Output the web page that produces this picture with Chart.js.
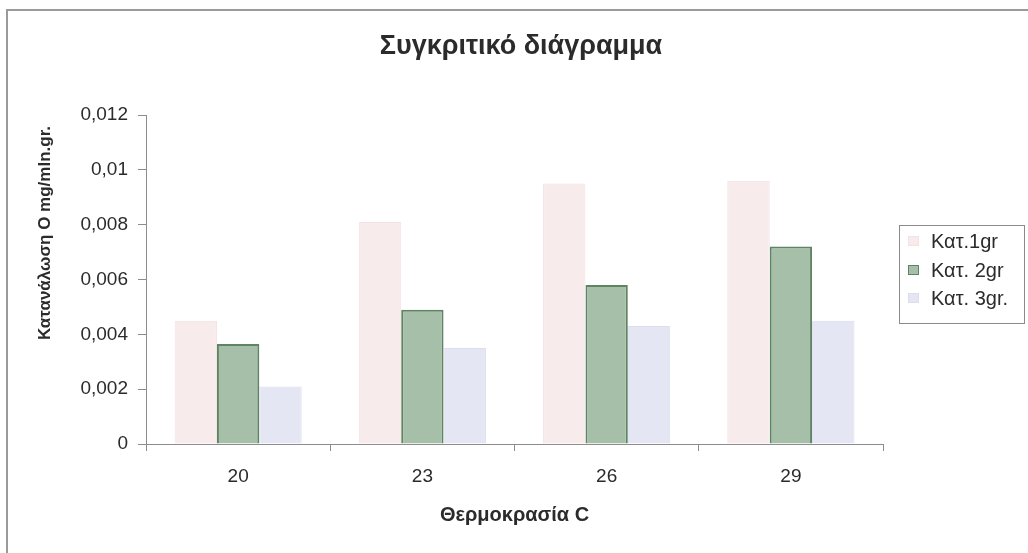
<!DOCTYPE html>
<html>
<head>
<meta charset="utf-8">
<style>
  html, body { margin: 0; padding: 0; background: #ffffff; }
  #wrap { width: 1028px; height: 553px; position: relative; }
</style>
<script src="https://cdn.jsdelivr.net/npm/chart.js@4.4.1/dist/chart.umd.min.js"></script>
</head>
<body>
<div id="wrap"><canvas id="chart" width="1028" height="553"></canvas></div>
<script>
// Temperatures (°C) on the category axis
const temperatures = ['20', '23', '26', '29'];

// Oxygen consumption, mg/min per gram, one series per size class
const seriesNames = ['Κατ.1gr', 'Κατ. 2gr', 'Κατ. 3gr.'];
const kat1 = [0.0045, 0.0081, 0.0095, 0.0096];
const kat2 = [0.00365, 0.0049, 0.0058, 0.0072];
const kat3 = [0.0021, 0.0035, 0.0043, 0.0045];

// Value axis range and step
const yMin = 0;
const yMax = 0.012;
const yStep = 0.002;

const chartTitle = 'Συγκριτικό διάγραμμα';
const xTitle = 'Θερμοκρασία C';
const yTitle = 'Κατανάλωση Ο mg/mln.gr.';

const FONT = "'Liberation Sans', Arial, sans-serif";
const TEXT = '#2b2b2b';
const AXIS = '#8c8c8c';

const fills = ['#f8ebec', '#a5bfa8', '#e4e7f3'];
const edges = ['#f1e2e3', '#5f8463', '#dadeee'];

function fmt(v) {
  return String(Number(v.toFixed(4))).replace('.', ',');
}

// Frame, title, axis titles and the boxed legend on the right
const decorations = {
  id: 'decorations',
  afterDraw(chart) {
    const ctx = chart.ctx;
    const area = chart.chartArea;
    ctx.save();

    // outer frame (top and left edges)
    ctx.strokeStyle = '#9a9a9a';
    ctx.lineWidth = 2;
    ctx.beginPath();
    ctx.moveTo(1028, 10);
    ctx.lineTo(7, 10);
    ctx.lineTo(7, 553);
    ctx.stroke();

    // title
    ctx.fillStyle = TEXT;
    ctx.textAlign = 'center';
    ctx.textBaseline = 'middle';
    ctx.font = 'bold 27px ' + FONT;
    ctx.fillText(chartTitle, 521, 47);

    // x axis title
    ctx.font = 'bold 20px ' + FONT;
    ctx.fillText(xTitle, (area.left + area.right) / 2, 515);

    // y axis title
    ctx.font = 'bold 17px ' + FONT;
    ctx.save();
    ctx.translate(45, 233);
    ctx.rotate(-Math.PI / 2);
    ctx.fillText(yTitle, 0, 0);
    ctx.restore();

    // legend box
    const bx = 899, by = 225, bw = 125, bh = 98;
    ctx.fillStyle = '#ffffff';
    ctx.fillRect(bx, by, bw, bh);
    ctx.strokeStyle = '#8a8a8a';
    ctx.lineWidth = 1;
    ctx.strokeRect(bx + 0.5, by + 0.5, bw, bh);

    const rows = [241, 270, 298];
    ctx.font = '20px ' + FONT;
    ctx.textAlign = 'left';
    chart.data.datasets.forEach((ds, i) => {
      const y = rows[i];
      ctx.fillStyle = ds.backgroundColor;
      ctx.fillRect(908, y - 5, 11, 10);
      ctx.strokeStyle = ds.borderColor;
      ctx.lineWidth = 1;
      ctx.strokeRect(908.5, y - 4.5, 10, 9);
      ctx.fillStyle = TEXT;
      ctx.fillText(ds.label, 931, y + 1);
    });

    ctx.restore();
  }
};

const datasets = [kat1, kat2, kat3].map((values, i) => ({
  label: seriesNames[i],
  data: values,
  backgroundColor: fills[i],
  borderColor: edges[i],
  borderWidth: i === 1 ? 2 : 1,
  categoryPercentage: 0.69,
  barPercentage: 1.0
}));

new Chart(document.getElementById('chart'), {
  type: 'bar',
  data: { labels: temperatures, datasets },
  options: {
    responsive: false,
    animation: false,
    layout: { padding: { left: 0, top: 115, right: 145, bottom: 0 } },
    plugins: {
      legend: { display: false },
      title: { display: false },
      tooltip: { enabled: false }
    },
    scales: {
      x: {
        grid: {
          offset: true,
          drawOnChartArea: false,
          drawTicks: true,
          tickLength: 7,
          color: AXIS
        },
        border: { color: AXIS, width: 1 },
        ticks: {
          color: TEXT,
          font: { family: FONT, size: 19 },
          padding: 14,
          maxRotation: 0
        },
        afterFit(scale) { scale.height = 109; }
      },
      y: {
        min: yMin,
        max: yMax,
        grid: {
          drawOnChartArea: false,
          drawTicks: true,
          tickLength: 8,
          color: AXIS
        },
        border: { color: AXIS, width: 1 },
        ticks: {
          stepSize: yStep,
          color: TEXT,
          font: { family: FONT, size: 19 },
          padding: 10,
          callback: (v) => fmt(v)
        },
        afterFit(scale) { scale.width = 146; }
      }
    }
  },
  plugins: [decorations]
});
</script>
</body>
</html>
